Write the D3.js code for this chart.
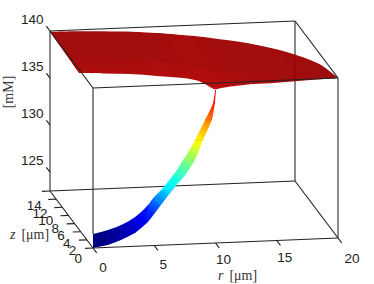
<!DOCTYPE html>
<html>
<head>
<meta charset="utf-8">
<script src="https://cdn.jsdelivr.net/npm/d3@7"></script>
<style>
body { margin: 0; background: #fff; }
text { font-family: "Liberation Sans", sans-serif; font-size: 13.5px; fill: #222; }
.title { font-family: "Liberation Serif", serif; font-size: 14px; fill: #333; }
</style>
</head>
<body>
<script>
let rTicks = [0, 5, 10, 15, 20]
let zTicks = [0, 2, 4, 6, 8, 10, 12, 14]
let cTicks = [125, 130, 135, 140]

// the flat sheet near the top, read along r
let sheetR = [0, 2, 4, 6, 8, 9, 9.5, 10, 10.5, 11, 12, 13, 14, 15, 16, 17, 18, 19, 19.5, 20]
let sheetZBack = [14, 13.9, 13.7, 13.35, 12.8, 12.5, 12.3, 12.1, 11.9, 11.7, 11.2, 10.6, 10, 9.25, 8.4, 7.4, 6.1, 4.4, 3.1, 0]
let sheetZMid = [7.6, 7.3, 7, 6.5, 5.9, 5, 4.6, 4.2, 3.9, 3.6, 3.1, 2.5, 2, 1.6, 1.2, 0.9, 0.6, 0.3, 0.1, 0]
let sheetZNear = [5.8, 5.5, 5.1, 4.6, 3.9, 3.1, 2.5, 2, 1.8, 1.6, 1.3, 1, 0.8, 0.6, 0.5, 0.4, 0.25, 0.15, 0.05, 0]
let sheetZFront = [4.6, 4.3, 3.9, 3.2, 2.5, 1.7, 1, 0.3, 0.1, 0.05, 0.05, 0.05, 0.05, 0.05, 0.05, 0.05, 0.05, 0.05, 0, 0]
let sheetCBack = [139.9, 139.9, 139.9, 139.9, 139.9, 139.9, 139.9, 139.9, 139.9, 139.9, 139.9, 139.9, 139.92, 139.95, 139.95, 139.95, 139.96, 139.97, 139.98, 140]
let sheetCMid = [139.82, 139.82, 139.82, 139.8, 139.78, 139.75, 139.72, 139.7, 139.72, 139.75, 139.78, 139.82, 139.84, 139.85, 139.86, 139.88, 139.9, 139.95, 139.98, 140]
let sheetCNear = [139.7, 139.68, 139.68, 139.66, 139.64, 139.62, 139.58, 139.52, 139.58, 139.62, 139.68, 139.74, 139.76, 139.8, 139.82, 139.86, 139.9, 139.95, 139.98, 140]
let sheetCFront = [139.6, 139.58, 139.58, 139.58, 139.56, 139.55, 139.4, 139.2, 139.4, 139.5, 139.6, 139.7, 139.72, 139.75, 139.8, 139.85, 139.9, 139.95, 139.98, 140]

let stripRUpper = [0, 1.22, 2.29, 3.43, 4.49, 4.98, 5.55, 6.61, 7.35, 7.92, 8.33, 9.14, 9.8, 9.96]
let stripCUpper = [124.49, 124.85, 125.32, 126.11, 127.34, 128.15, 128.87, 130.51, 131.96, 133.1, 134.03, 136.11, 137.89, 139.26]
let stripRLower = [0, 1.22, 2.29, 3.43, 4.49, 5.55, 6.69, 7.59, 8.33, 8.69, 8.98, 9.71, 9.96, 10.04]
let stripCLower = [123, 123.26, 123.73, 124.41, 125.53, 127.27, 129.13, 130.46, 131.9, 133.06, 134, 136.08, 137.88, 139.26]

let width = 374
let height = 284
let cMin = 123
let cMax = 140
let colorMax = 140.4

let rX = d3.scaleLinear().domain([0, 20]).range([93, 338])
let rY = d3.scaleLinear().domain([0, 20]).range([0, -10])
let zX = d3.scaleLinear().domain([0, 14]).range([0, -43])
let zY = d3.scaleLinear().domain([0, 14]).range([0, -57])
let cY = d3.scaleLinear().domain([cMin, cMax]).range([248, 88])

let jet = d3.scaleLinear()
    .domain([0, 0.125, 0.375, 0.625, 0.875, 1].map(t => cMin + t * (colorMax - cMin)))
    .range(["#000080", "#0000ff", "#00ffff", "#ffff00", "#ff0000", "#800000"])
    .clamp(true)

function project(r, z, c){
    return [rX(r) + zX(z), cY(c) + rY(r) + zY(z)]
}

let svg = d3.select("body").append("svg")
    .attr("width", width)
    .attr("height", height)
let defs = svg.append("defs")
let line = d3.line()
let smooth = d3.line().curve(d3.curveCatmullRom)

function edge(group, a, b, color){
    group.append("path")
        .attr("d", line([project(...a), project(...b)]))
        .attr("fill", "none")
        .attr("stroke", color)
        .attr("stroke-width", 1.15)
}

// smooth outline from two edges, used to clip the quads
function outline(id, first, second){
    let d = smooth(first) + "L" + smooth(second.slice().reverse()).slice(1) + "Z"
    defs.append("clipPath").attr("id", id).append("path").attr("d", d)
}

// back edges of the box go under the surface
let back = svg.append("g")
let boxColor = "#222"
edge(back, [0, 14, cMin], [20, 14, cMin], boxColor)
edge(back, [20, 14, cMin], [20, 0, cMin], boxColor)
edge(back, [0, 14, cMin], [0, 0, cMin], boxColor)
edge(back, [0, 14, cMin], [0, 14, cMax], "#333")
edge(back, [20, 14, cMin], [20, 14, cMax], "#333")
edge(back, [0, 14, cMax], [20, 14, cMax], boxColor)
edge(back, [20, 14, cMax], [20, 0, cMax], boxColor)

outline("sheet-clip",
    sheetR.map((r, i) => project(r, sheetZFront[i], sheetCFront[i])),
    sheetR.map((r, i) => project(r, sheetZBack[i], sheetCBack[i])))
let sheet = svg.append("g").attr("opacity", 0.95).attr("clip-path", "url(#sheet-clip)")
let rows = [
    [sheetZFront, sheetCFront, sheetZNear, sheetCNear],
    [sheetZNear, sheetCNear, sheetZMid, sheetCMid],
    [sheetZMid, sheetCMid, sheetZBack, sheetCBack]
]
rows.forEach(([z0, c0, z1, c1]) => {
    for (let i = 0; i < sheetR.length - 1; i++){
        let quad = [
            project(sheetR[i], z0[i], c0[i]),
            project(sheetR[i + 1], z0[i + 1], c0[i + 1]),
            project(sheetR[i + 1], z1[i + 1], c1[i + 1]),
            project(sheetR[i], z1[i], c1[i])
        ]
        let color = jet((c0[i] + c0[i + 1] + c1[i] + c1[i + 1]) / 4)
        sheet.append("path")
            .attr("d", line(quad) + "Z")
            .attr("fill", color)
            .attr("stroke", color)
            .attr("stroke-width", 1.5)
    }
})

outline("strip-clip",
    stripRUpper.map((r, i) => project(r, 0, stripCUpper[i])),
    stripRLower.map((r, i) => project(r, 0, stripCLower[i])))
let strip = svg.append("g").attr("clip-path", "url(#strip-clip)")
for (let i = 0; i < stripRUpper.length - 1; i++){
    let up0 = project(stripRUpper[i], 0, stripCUpper[i])
    let up1 = project(stripRUpper[i + 1], 0, stripCUpper[i + 1])
    let lo0 = project(stripRLower[i], 0, stripCLower[i])
    let lo1 = project(stripRLower[i + 1], 0, stripCLower[i + 1])
    let c0 = stripCLower[i]
    let c1 = stripCLower[i + 1]
    let grad = defs.append("linearGradient")
        .attr("id", `strip-${i}`)
        .attr("gradientUnits", "userSpaceOnUse")
        .attr("x1", (up0[0] + lo0[0]) / 2)
        .attr("y1", (up0[1] + lo0[1]) / 2)
        .attr("x2", (up1[0] + lo1[0]) / 2)
        .attr("y2", (up1[1] + lo1[1]) / 2)
    d3.range(0, 1.01, 0.25).forEach(t => {
        grad.append("stop")
            .attr("offset", t)
            .attr("stop-color", jet(c0 + t * (c1 - c0)))
    })
    strip.append("path")
        .attr("d", line([up0, up1, lo1, lo0]) + "Z")
        .attr("fill", `url(#strip-${i})`)
        .attr("stroke", jet((c0 + c1) / 2))
        .attr("stroke-width", 0.5)
}

// front edges and ticks on top
let front = svg.append("g")
edge(front, [0, 0, cMin], [20, 0, cMin], boxColor)
edge(front, [0, 14, cMax], [0, 0, cMax], boxColor)
edge(front, [0, 0, cMax], [20, 0, cMax], boxColor)
edge(front, [0, 0, 124.5], [0, 0, cMax], "#333")
edge(front, [20, 0, cMin], [20, 0, cMax], "#333")

rTicks.forEach(t => edge(front, [t, 0, cMin], [t, -1.2, cMin], boxColor))
zTicks.forEach(t => edge(front, [0, t, cMin], [-0.65, t, cMin], boxColor))
cTicks.forEach(t => edge(front, [0, 14, t], [0, 15.2, t], boxColor))

let rLabelOffset = [[10, 18], [9, 17], [8, 15], [8, 15], [14, 19]]
rTicks.forEach((t, i) => {
    let p = project(t, 0, cMin)
    svg.append("text")
        .attr("x", p[0] + rLabelOffset[i][0])
        .attr("y", p[1] + rLabelOffset[i][1] + 6)
        .attr("text-anchor", "middle")
        .text(t)
})
zTicks.forEach(t => {
    let p = project(0, t, cMin)
    svg.append("text")
        .attr("x", p[0] - 11 + t * 0.2)
        .attr("y", p[1] + 15 + t * 0.3)
        .attr("text-anchor", "end")
        .text(t)
})
cTicks.forEach(t => {
    let p = project(0, 14, t)
    svg.append("text")
        .attr("x", p[0] - 6.5)
        .attr("y", p[1] - 7)
        .attr("text-anchor", "end")
        .text(t)
})

function axisTitle(x, y, name){
    let label = svg.append("text").attr("class", "title").attr("x", x).attr("y", y)
    label.append("tspan").style("font-style", "italic").text(name)
    label.append("tspan").attr("dx", 6).text("[μm]")
}
axisTitle(218, 280, "r")
axisTitle(10, 239, "z")
svg.append("text")
    .attr("class", "title")
    .attr("transform", "translate(13,92) rotate(-90)")
    .attr("text-anchor", "middle")
    .text("[mM]")
</script>
</body>
</html>
